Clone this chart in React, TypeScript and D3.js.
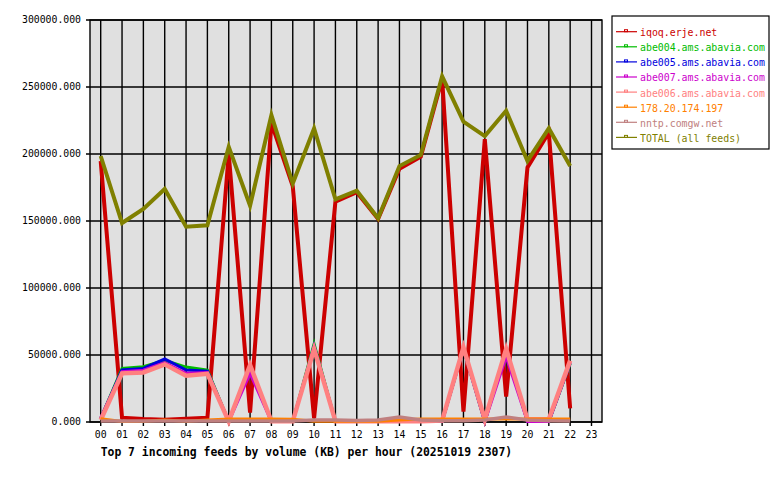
import React from "react";
import * as d3 from "d3";

const hours = ["00","01","02","03","04","05","06","07","08","09","10","11","12","13","14","15","16","17","18","19","20","21","22","23"];
const yTicks = [0, 50000, 100000, 150000, 200000, 250000, 300000];

const feedNames = ["iqoq.erje.net","abe004.ams.abavia.com","abe005.ams.abavia.com","abe007.ams.abavia.com","abe006.ams.abavia.com","178.20.174.197","nntp.comgw.net","TOTAL (all feeds)"];
const feedColors = ["#cc0000","#00bb00","#0000dd","#cc00cc","#ff8080","#ff8000","#c08080","#808000"];
const feedWidths = [4, 3, 3, 3, 4.5, 3, 3.5, 4];

const iqoq = [194800, 3200, 2200, 1700, 2500, 3200, 200000, 7000, 223000, 176000, 2700, 164500, 171500, 151500, 189000, 198000, 256000, 7700, 211000, 18900, 190000, 216000, 10200];
const abe004 = [2500, 40000, 41300, 46000, 41000, 38800, 300, 40500, 300, 300, 58200, 300, 300, 300, 300, 300, 300, 55000, 300, 54000, 300, 300, 43500];
const abe005 = [2500, 38800, 40000, 47000, 38800, 38000, 300, 41000, 300, 300, 56700, 300, 300, 300, 300, 300, 300, 54500, 300, 54000, 300, 300, 44000];
const abe007 = [3000, 37500, 38600, 44300, 36300, 37000, 300, 36300, 300, 300, 55700, 300, 300, 300, 300, 300, 300, 55500, 300, 48700, 300, 300, 44500];
const abe006 = [1500, 36300, 37000, 43000, 34600, 36000, 500, 42500, 500, 500, 54500, 500, 500, 500, 500, 500, 1000, 55700, 2000, 54500, 2000, 2000, 45800];
const ip178 = [2500, 300, 500, 1500, 500, 1500, 2200, 2200, 2200, 2000, 500, 500, 500, 500, 1500, 2200, 2200, 2200, 2200, 2200, 2200, 2200, 2200];
const nntp = [700, 700, 700, 700, 700, 700, 700, 700, 700, 700, 1500, 1500, 1200, 1500, 3800, 1500, 1000, 1000, 1500, 3800, 1500, 1000, 800];
const total = [198500, 148500, 159000, 173900, 145700, 146800, 205400, 161400, 229000, 178000, 219100, 166200, 172600, 152000, 191000, 199300, 258000, 224100, 213400, 232300, 194800, 219100, 191000];

const series = [iqoq, abe004, abe005, abe007, abe006, ip178, nntp, total];

const font = "'DejaVu Sans Mono', 'Liberation Mono', monospace";

export default function App() {
  const left = 90, right = 602, top = 20, bottom = 422;
  const x = d3.scaleLinear().domain([0, 23]).range([100.7, 591.5]);
  const y = d3.scaleLinear().domain([0, 300000]).range([bottom, top]);
  const line = d3.line<number>().x((_, i) => x(i)).y((d) => y(d));

  const legX = 612, legY = 16, legW = 157, legH = 133;

  return (
    <svg width={780} height={480} style={{ position: "absolute", left: 0, top: 0, background: "#fff" }}>
      <rect x={0} y={0} width={780} height={480} fill="#fff" />
      <rect x={left} y={top} width={right - left} height={bottom - top} fill="#e0e0e0" />
      {/* vertical grid */}
      {hours.map((h, i) => (
        <line key={"vg" + h} x1={x(i)} x2={x(i)} y1={top} y2={bottom + 4} stroke="#000" strokeWidth={1.4} />
      ))}
      {/* horizontal grid */}
      {yTicks.map((t) => (
        <line key={"hg" + t} x1={left - 4} x2={right} y1={y(t)} y2={y(t)} stroke="#000" strokeWidth={1.4} />
      ))}
      <rect x={left} y={top} width={right - left} height={bottom - top} fill="none" stroke="#000" strokeWidth={1.4} />
      {/* series */}
      {series.map((s, k) => (
        <path key={"s" + k} d={line(s) || ""} fill="none" stroke={feedColors[k]} strokeWidth={feedWidths[k]} strokeLinejoin="miter" strokeLinecap="butt" />
      ))}
      {/* y labels */}
      {yTicks.map((t) => (
        <text key={"yl" + t} x={81} y={y(t)} dy="0.35em" textAnchor="end" fontFamily={font} fontSize={9.8} fill="#000">
          {d3.format(".3f")(t)}
        </text>
      ))}
      {/* x labels */}
      {hours.map((h, i) => (
        <text key={"xl" + h} x={x(i)} y={435} dy="0.35em" textAnchor="middle" fontFamily={font} fontSize={9.8} fill="#000">
          {h}
        </text>
      ))}
      <text x={100.7} y={452.3} dy="0.35em" fontFamily={font} fontSize={11.4} fontWeight="bold" fill="#000">
        Top 7 incoming feeds by volume (KB) per hour (20251019 2307)
      </text>
      {/* legend */}
      <rect x={legX} y={legY} width={legW} height={legH} fill="#fff" stroke="#000" strokeWidth={1.2} />
      {feedNames.map((n, k) => {
        const cy = 32.7 + k * 15.1;
        return (
          <g key={"lg" + k}>
            <line x1={616} x2={637} y1={cy - 1} y2={cy - 1} stroke={feedColors[k]} strokeWidth={1.2} />
            <rect x={624.5} y={cy - 3} width={3} height={2} fill="none" stroke={feedColors[k]} strokeWidth={1} />
            <text x={640} y={cy} dy="0.35em" fontFamily={font} fontSize={9.9} fill={feedColors[k]}>
              {n}
            </text>
          </g>
        );
      })}
    </svg>
  );
}
